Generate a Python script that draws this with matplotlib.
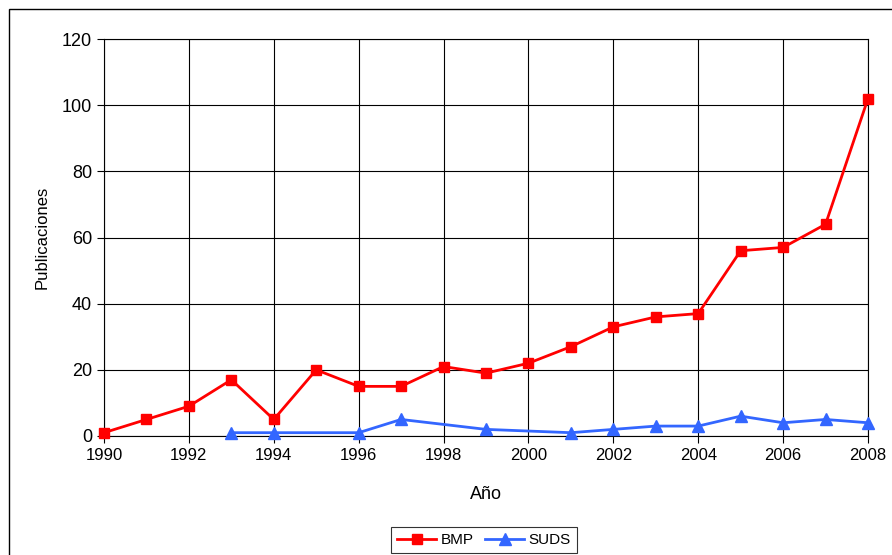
import matplotlib
matplotlib.use("Agg")
import matplotlib.pyplot as plt
from matplotlib.patches import Rectangle

plt.rcParams['font.family'] = ['Liberation Sans', 'DejaVu Sans']

bmp_years = [1990, 1991, 1992, 1993, 1994, 1995, 1996, 1997, 1998, 1999,
             2000, 2001, 2002, 2003, 2004, 2005, 2006, 2007, 2008]
bmp_values = [1, 5, 9, 17, 5, 20, 15, 15, 21, 19, 22, 27, 33, 36, 37, 56, 57, 64, 102]

suds_years = [1993, 1994, 1996, 1997, 1999, 2001, 2002, 2003, 2004, 2005, 2006, 2007, 2008]
suds_values = [1, 1, 1, 5, 2, 1, 2, 3, 3, 6, 4, 5, 4]

xticks = list(range(1990, 2009, 2))
yticks = list(range(0, 121, 20))

W, H = 892, 555
fig = plt.figure(figsize=(W / 100, H / 100), dpi=100)
ax = fig.add_axes([104 / W, 1 - 436 / H, (868 - 104) / W, (436 - 39) / H])

ax.plot(bmp_years, bmp_values, color='#FF0000', lw=2, marker='s', ms=7,
        label='BMP', zorder=3, clip_on=False)
ax.plot(suds_years, suds_values, color='#3366FF', lw=2, marker='^', ms=8,
        label='SUDS', zorder=3, clip_on=False)

ax.set_xlim(1990, 2008)
ax.set_ylim(0, 120)
ax.set_xticks(xticks)
ax.set_yticks(yticks)
ax.grid(True, color='black', lw=0.8)
ax.set_axisbelow(True)
for s in ax.spines.values():
    s.set_color('black')
    s.set_linewidth(0.8)
ax.tick_params(axis='both', direction='out', length=5, width=0.8)
ax.tick_params(axis='y', labelsize=13)
ax.tick_params(axis='x', labelsize=12)
ax.set_xlabel('Año', fontsize=13, labelpad=17)
ax.set_ylabel('Publicaciones', fontsize=12, labelpad=9)

fig.patches.append(Rectangle((9 / W, -0.05), 1.0, 1 - 9 / H + 0.05,
                             transform=fig.transFigure, fill=False,
                             edgecolor='black', lw=1))

leg = fig.legend(loc='upper center', bbox_to_anchor=(484 / W, 1 - 527 / H),
                 ncol=2, fontsize=11, frameon=True, fancybox=False,
                 edgecolor='black', handlelength=2.5, columnspacing=0.8,
                 handletextpad=0.3, borderpad=0.4, borderaxespad=0)
leg.get_frame().set_linewidth(0.8)

fig.savefig('out.png', dpi=100)
